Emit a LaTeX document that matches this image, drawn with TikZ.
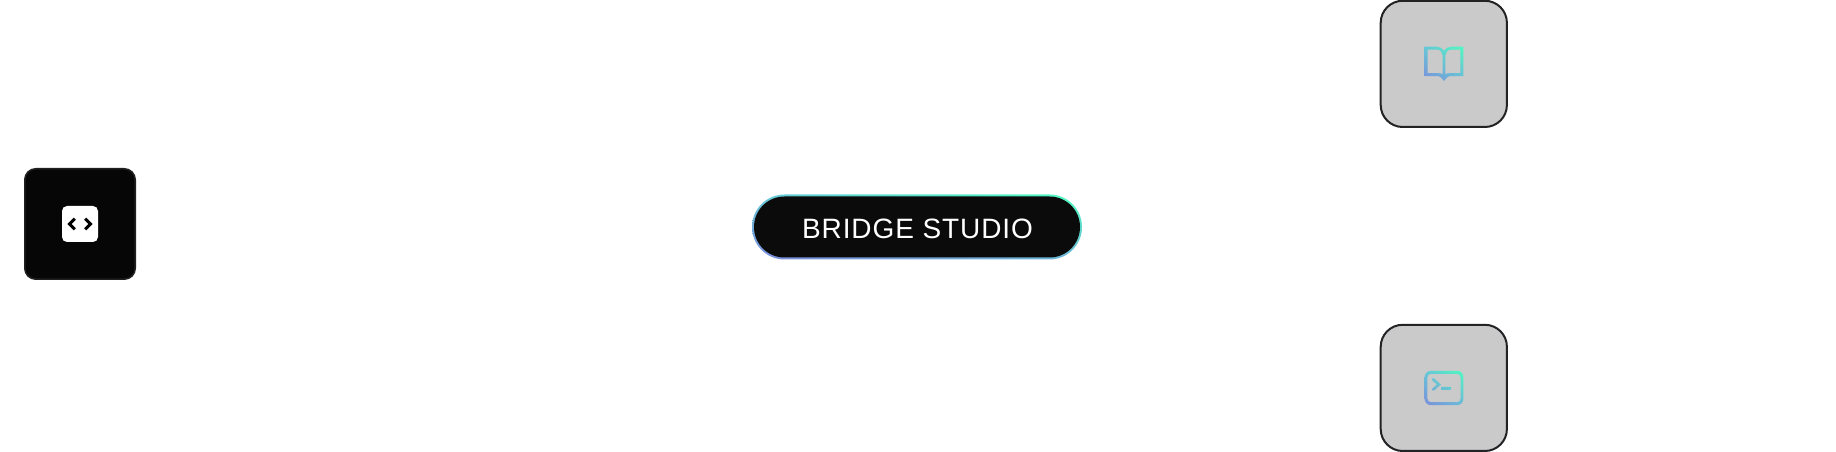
\documentclass[tikz,border=0pt]{standalone}
\usepackage{fontspec}
\usepackage{xcolor}
\usetikzlibrary{positioning,shadings}
\newfontfamily\labelfont[LetterSpace=3.2]{Liberation Sans}
\definecolor{tileink}{HTML}{060606}
\definecolor{tilerule}{HTML}{1F1F1F}
\definecolor{pillink}{HTML}{0B0B0B}
\definecolor{softgray}{HTML}{CACACA}
\definecolor{softrule}{HTML}{232326}
\definecolor{gradblue}{HTML}{7C8CDC}
\definecolor{gradmint}{HTML}{4EFCC0}
\definecolor{gradmidup}{HTML}{66C8D6}
\definecolor{gradmidlow}{HTML}{6CB8D8}

\begin{document}
\begin{tikzpicture}[
    x=1pt, y=1pt,
    codetile/.style={draw=tilerule, fill=tileink, rounded corners=11pt,
                     line width=1.6pt, minimum size=110.4pt, inner sep=0pt},
    chiptile/.style={fill=white, rounded corners=5pt, minimum size=36pt, inner sep=0pt},
    softtile/.style={draw=softrule, fill=softgray, rounded corners=22pt,
                     line width=2pt, minimum size=126.2pt, inner sep=0pt},
    gradient/.style={shading=bilinear interpolation, lower left=gradblue, upper right=gradmint,
                     upper left=gradmidup, lower right=gradmidlow},
    pillring/.style={gradient, rounded corners=32.5pt, minimum width=330pt, minimum height=65pt,
                     inner sep=0pt},
    pillcore/.style={fill=pillink, rounded corners=30.5pt, minimum width=326pt, minimum height=61pt,
                     inner sep=0pt},
    pilltext/.style={text=white, inner sep=0pt, font=\labelfont\fontsize{28}{30}\selectfont},
    chevron/.style={draw=black, line width=3pt, line join=miter},
  ]
\useasboundingbox (0,0) rectangle (1836,452);

\node[codetile] (code) at (80,228) {};
\node[chiptile] (chip) at (80,228) {};
\draw[chevron, shift={(chip.center)}] (-5.2,5.4) -- (-10.6,0) -- (-5.2,-5.4);
\draw[chevron, shift={(chip.center)}] (5.2,5.4) -- (10.6,0) -- (5.2,-5.4);

\node[pillring] (ring) at (917,225) {};
\node[pillcore] (studio) at (ring.center) {};
\node[pilltext] (caption) at (917.5,223.5) {BRIDGE STUDIO};

\node[softtile] (book) at (1443.8,388.1) {};
\node[softtile, below=195.8pt of book] (terminal) {};

% book icon
\begin{scope}[even odd rule, shift={([xshift=.2pt,yshift=-.1pt]book.center)}]
  \clip
    (-19.4,17.3) -- (-7,17.3) .. controls (-4,17.3) and (-1.5,15.5) .. (0,13.2)
    .. controls (1.5,15.5) and (4,17.3) .. (7,17.3) -- (19.4,17.3) -- (19.4,-12.2) -- (5.25,-12.2)
    .. controls (3,-12.2) and (1.8,-15.5) .. (0,-17)
    .. controls (-1.8,-15.5) and (-3,-12.2) .. (-5.25,-12.2) -- (-19.4,-12.2) -- cycle
    (-16.4,14.4) -- (-7,14.4) .. controls (-3.8,14.4) and (-1.45,11.8) .. (-1.45,8.75) -- (-1.45,-10.2)
    .. controls (-2.3,-9.4) and (-3.7,-9.2) .. (-5.25,-9.2) -- (-16.4,-9.2) -- cycle
    (16.4,14.4) -- (7,14.4) .. controls (3.8,14.4) and (1.45,11.8) .. (1.45,8.75) -- (1.45,-10.2)
    .. controls (2.3,-9.4) and (3.7,-9.2) .. (5.25,-9.2) -- (16.4,-9.2) -- cycle;
  \shade[gradient] (-20,-18) rectangle (20,18);
\end{scope}

% terminal icon
\begin{scope}[even odd rule, shift={([xshift=.2pt,yshift=-.1pt]terminal.center)}]
  \clip
    [rounded corners=6.4pt] (-19.4,-17.2) rectangle (19.4,17.2)
    [rounded corners=3.6pt] (-16.6,-14.2) rectangle (16.6,14.2)
    [sharp corners]
    (-11.8,9.5) -- (-9.8,9.5) -- (-3.2,3.5) -- (-9.8,-2.4) -- (-11.8,-2.4) -- (-11.8,-.6) -- (-7,3.5) -- (-11.8,7.6) -- cycle
    (-2.8,-2) rectangle (6.8,1);
  \shade[gradient] (-20,-18) rectangle (20,18);
\end{scope}

\end{tikzpicture}
\end{document}
